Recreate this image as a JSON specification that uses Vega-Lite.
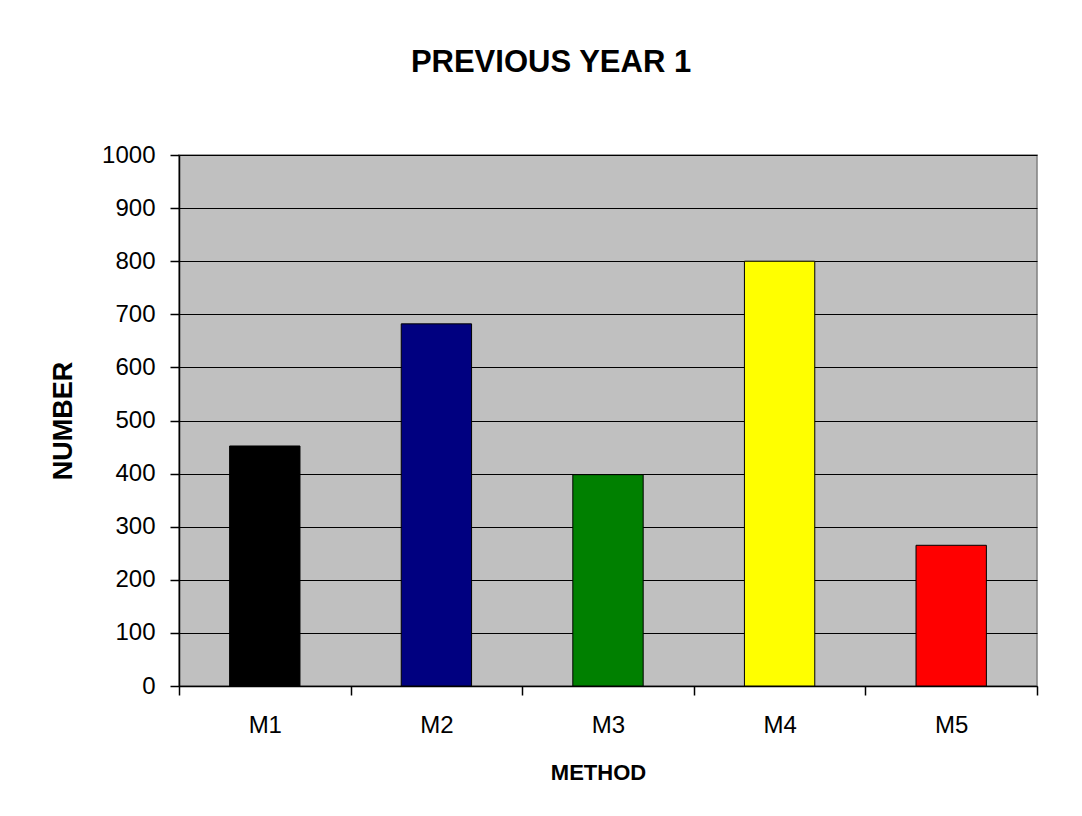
{
  "$schema": "https://vega.github.io/schema/vega-lite/v6.json",
  "autosize": {"type": "none"},
  "width": 858,
  "height": 531,
  "padding": {"left": 179, "top": 155, "right": 45, "bottom": 130},
  "background": "white",
  "title": {
    "text": "PREVIOUS YEAR 1",
    "font": "Liberation Sans",
    "fontSize": 31,
    "fontWeight": "bold",
    "color": "black",
    "anchor": "middle",
    "baseline": "alphabetic",
    "offset": 40,
    "dx": -57
  },
  "config": {
    "view": {"fill": "#C0C0C0", "stroke": "#808080", "strokeWidth": 1.5}
  },
  "data": {
    "values": [
      {"method": "M1", "number": 452},
      {"method": "M2", "number": 682},
      {"method": "M3", "number": 398},
      {"method": "M4", "number": 800},
      {"method": "M5", "number": 265}
    ]
  },
  "mark": {"type": "bar", "stroke": "black", "strokeWidth": 1, "width": {"band": 0.41}},
  "encoding": {
    "x": {
      "field": "method",
      "type": "nominal",
      "sort": null,
      "title": "METHOD",
      "scale": {"paddingInner": 0, "paddingOuter": 0},
      "axis": {
        "labelAngle": 0,
        "tickBand": "extent",
        "domainColor": "black",
        "domainWidth": 1.5,
        "tickColor": "black",
        "tickWidth": 1.5,
        "tickSize": 9,
        "labelFont": "Liberation Sans",
        "labelFontSize": 24,
        "labelColor": "black",
        "labelPadding": 18,
        "titleFont": "Liberation Sans",
        "titleFontSize": 22,
        "titleFontWeight": "bold",
        "titleColor": "black",
        "titlePadding": 25,
        "titleX": 419
      }
    },
    "y": {
      "field": "number",
      "type": "quantitative",
      "title": "NUMBER",
      "scale": {"domain": [0, 1000], "nice": false},
      "axis": {
        "values": [0, 100, 200, 300, 400, 500, 600, 700, 800, 900, 1000],
        "format": "d",
        "grid": true,
        "gridColor": "black",
        "gridOpacity": 1,
        "gridWidth": 1.2,
        "domainColor": "black",
        "domainWidth": 1.5,
        "tickColor": "black",
        "tickWidth": 1.5,
        "tickSize": 9,
        "labelFont": "Liberation Sans",
        "labelFontSize": 24,
        "labelColor": "black",
        "labelPadding": 15,
        "titleFont": "Liberation Sans",
        "titleFontSize": 27,
        "titleFontWeight": "bold",
        "titleColor": "black",
        "titlePadding": 24
      }
    },
    "color": {
      "field": "method",
      "type": "nominal",
      "scale": {
        "domain": ["M1", "M2", "M3", "M4", "M5"],
        "range": ["#000000", "#000080", "#008000", "#FFFF00", "#FF0000"]
      },
      "legend": null
    }
  }
}
